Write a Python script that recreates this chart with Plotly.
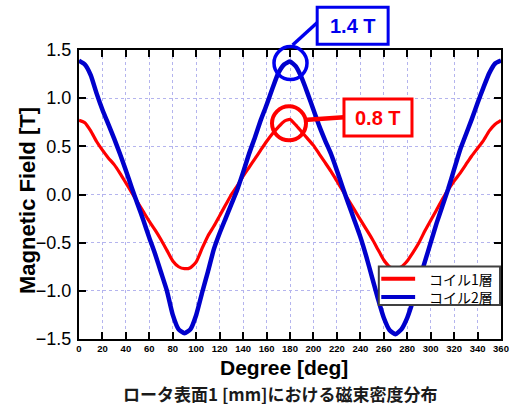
import plotly.graph_objects as go

# ---------------- data ----------------
DEG = list(range(0, 361, 5))

COIL1 = [0.77, 0.745, 0.66, 0.55, 0.46, 0.38, 0.31, 0.22, 0.12, 0.02,
         -0.08, -0.18, -0.28, -0.37, -0.47, -0.58, -0.69, -0.75, -0.77,
         -0.76, -0.70, -0.56, -0.43, -0.33, -0.22, -0.11, 0.0, 0.09,
         0.19, 0.28, 0.37, 0.46, 0.55, 0.63, 0.70, 0.76, 0.78,
         0.72, 0.65, 0.58, 0.51, 0.42, 0.33, 0.24, 0.14, 0.04,
         -0.06, -0.16, -0.26, -0.36, -0.46, -0.57, -0.68, -0.75, -0.77,
         -0.75, -0.69, -0.60, -0.50, -0.38, -0.27, -0.16, -0.05, 0.05,
         0.14, 0.22, 0.31, 0.40, 0.48, 0.56, 0.66, 0.73, 0.77]

COIL2 = [1.39, 1.35, 1.24, 1.05, 0.88, 0.73, 0.58, 0.42, 0.25, 0.07,
         -0.10, -0.27, -0.45, -0.62, -0.81, -1.00, -1.25, -1.40, -1.44,
         -1.40, -1.25, -1.02, -0.80, -0.57, -0.40, -0.25, -0.10, 0.05,
         0.23, 0.42, 0.59, 0.77, 0.93, 1.10, 1.26, 1.35, 1.38,
         1.33, 1.21, 1.05, 0.88, 0.71, 0.56, 0.42, 0.25, 0.07,
         -0.10, -0.27, -0.44, -0.64, -0.86, -1.08, -1.28, -1.41, -1.45,
         -1.40, -1.28, -1.10, -0.90, -0.70, -0.50, -0.30, -0.12, 0.06,
         0.26, 0.46, 0.62, 0.78, 0.95, 1.11, 1.26, 1.36, 1.39]

SERIES_NAMES = ["コイル1層", "コイル2層"]
X_TICKS = list(range(0, 361, 20))
Y_TICKS = [-1.5, -1.0, -0.5, 0.0, 0.5, 1.0, 1.5]
LABEL_BLUE = "1.4 T"
LABEL_RED = "0.8 T"
X_TITLE = "Degree [deg]"
Y_TITLE = "Magnetic Field [T]"
CAPTION = "ロータ表面1 [mm]における磁束密度分布"

# ---------------- figure ----------------
RED = "#ff0000"
BLUE_LINE = "#0000cc"
BLUE_MARK = "#0000ee"
LATIN = "Liberation Sans, Arial, sans-serif"
CJK = "Noto Sans CJK JP, sans-serif"
COLORS = [RED, BLUE_LINE]
WIDTHS = [3.2, 4.5]

fig = go.Figure()
for name, ys, c, w in zip(SERIES_NAMES, [COIL1, COIL2], COLORS, WIDTHS):
    fig.add_trace(go.Scatter(x=DEG, y=ys, mode="lines", name=name, showlegend=False,
                             line=dict(color=c, width=w, shape="spline", smoothing=0.5)))

XR = [0, 360]
YR = [-1.5, 1.5]

# plot area in pixels: left 79, right 509, top 50, bottom 339
L, R, T, B = 79, 509, 50, 339


def pxp(x):
    return (x - L) / (R - L)


def pyp(y):
    return (B - y) / (B - T)


def dx(v):
    return (v - XR[0]) / (XR[1] - XR[0])


def dy(v):
    return (v - YR[0]) / (YR[1] - YR[0])


i_peak = DEG.index(180)

shapes = [
    dict(type="circle", xref="paper", yref="paper", xsizemode="pixel", ysizemode="pixel",
         xanchor=dx(DEG[i_peak]), yanchor=dy(COIL2[i_peak]),
         x0=-16, x1=17, y0=-18, y1=15, line=dict(color=BLUE_MARK, width=3.5)),
    dict(type="circle", xref="paper", yref="paper", xsizemode="pixel", ysizemode="pixel",
         xanchor=dx(DEG[i_peak]), yanchor=dy(COIL1[i_peak]),
         x0=-18, x1=16, y0=-21, y1=13, line=dict(color=RED, width=4)),
    dict(type="line", xref="paper", yref="paper", x0=pxp(296.7), y0=pyp(45), x1=pxp(322.7), y1=pyp(21.7),
         line=dict(color=BLUE_MARK, width=3.5)),
    dict(type="line", xref="paper", yref="paper", x0=pxp(308.3), y0=pyp(120), x1=pxp(349), y1=pyp(117.3),
         line=dict(color=RED, width=4.5)),
    dict(type="rect", xref="paper", yref="paper", x0=pxp(321.7), x1=pxp(394), y0=pyp(44.3), y1=pyp(7.3),
         fillcolor="white", line=dict(color=BLUE_MARK, width=3)),
    dict(type="rect", xref="paper", yref="paper", x0=pxp(349), x1=pxp(418.3), y0=pyp(136), y1=pyp(99),
         fillcolor="white", line=dict(color=RED, width=3)),
    # legend box
    dict(type="rect", xref="paper", yref="paper", x0=pxp(384.5), x1=pxp(508), y0=pyp(305), y1=pyp(266.5),
         fillcolor="white", line=dict(color="#404040", width=2)),
]

annotations = [
    dict(text=LABEL_BLUE, xref="paper", yref="paper", x=pxp(357.8), y=pyp(26), showarrow=False,
         xanchor="center", yanchor="middle",
         font=dict(family=LATIN, size=20, color=BLUE_MARK, weight="bold")),
    dict(text=LABEL_RED, xref="paper", yref="paper", x=pxp(383.7), y=pyp(117.5), showarrow=False,
         xanchor="center", yanchor="middle",
         font=dict(family=LATIN, size=20, color=RED, weight="bold")),
    dict(text=X_TITLE, xref="paper", yref="paper", x=pxp(288), y=pyp(367),
         showarrow=False, xanchor="center", yanchor="middle",
         font=dict(family=LATIN, size=21, color="black", weight="bold")),
    dict(text=Y_TITLE, xref="paper", yref="paper", x=pxp(26), y=pyp(200),
         showarrow=False, xanchor="center", yanchor="middle", textangle=-90,
         font=dict(family=LATIN, size=22, color="black", weight="bold")),
    dict(text=CAPTION, xref="paper", yref="paper", x=pxp(284), y=pyp(393),
         showarrow=False, xanchor="center", yanchor="middle",
         font=dict(family=CJK, size=17, color="#1a1a1a", weight="bold")),
]

# legend entries
LEG_Y0, LEG_DY = 278.7, 18.2
for k, c in enumerate(COLORS):
    yy = LEG_Y0 + k * LEG_DY
    shapes.append(dict(type="line", xref="paper", yref="paper",
                       x0=pxp(387), x1=pxp(421.5), y0=pyp(yy), y1=pyp(yy),
                       line=dict(color=c, width=4)))
annotations.append(dict(text="<br>".join(SERIES_NAMES), xref="paper", yref="paper",
                        x=pxp(434), y=pyp(LEG_Y0 + LEG_DY / 2), showarrow=False,
                        xanchor="left", yanchor="middle", align="left",
                        font=dict(family=CJK, size=14, color="black")))

GRID = "#b4b4ee"
fig.update_layout(
    width=519, height=409, autosize=False,
    margin=dict(l=L, r=519 - R, t=T, b=409 - B, pad=0),
    paper_bgcolor="white", plot_bgcolor="white",
    showlegend=False,
    shapes=shapes, annotations=annotations,
    xaxis=dict(range=XR, tickvals=X_TICKS, ticks="inside", ticklen=7, tickwidth=2,
               tickcolor="black", showline=True, linewidth=2, linecolor="black",
               mirror="ticks", showgrid=True, gridcolor=GRID, griddash="dot", gridwidth=1,
               zeroline=False, ticklabelstandoff=0,
               tickfont=dict(family=LATIN, size=9.5, color="black", weight="bold")),
    yaxis=dict(range=YR, tickvals=Y_TICKS, tickformat=".1f", ticks="inside", ticklen=7,
               tickwidth=2, tickcolor="black", showline=True, linewidth=2, linecolor="black",
               mirror="ticks", showgrid=True, gridcolor=GRID, griddash="dot", gridwidth=1,
               zeroline=False, ticklabelstandoff=2,
               tickfont=dict(family=LATIN, size=18, color="black")),
)

fig.write_html("out.html", config={"displayModeBar": False},
               post_script="document.body.style.margin='0px';document.body.style.overflow='hidden';")
